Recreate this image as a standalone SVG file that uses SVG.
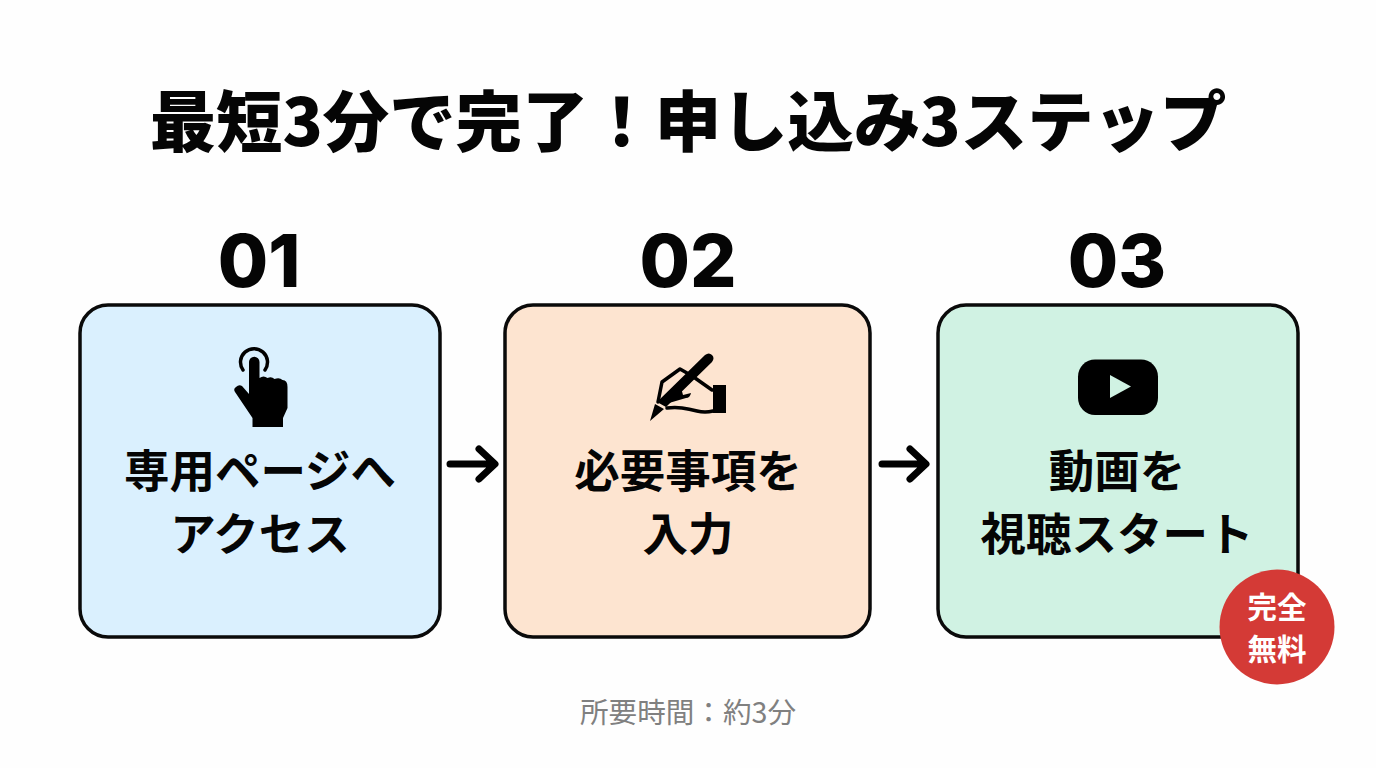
<svg xmlns="http://www.w3.org/2000/svg" width="1376" height="768" viewBox="0 0 1376 768">
<style>
text{font-family:"Noto Sans CJK JP","Noto Sans",sans-serif;text-anchor:middle;fill:#050505}
.t{font-size:66.400px;font-weight:900}
.n{font-size:73px;font-weight:800;font-family:Inter,"Noto Sans",sans-serif}
.l{font-size:45.500px;font-weight:700}
.card{stroke:#0a0a0a;stroke-width:3.500}
.arrow{fill:none;stroke:#000;stroke-width:7;stroke-linecap:round;stroke-linejoin:round}
.ink{fill:none;stroke:#000;stroke-width:3.500;stroke-linecap:round;stroke-linejoin:round}
</style>
<rect width="1376" height="768" fill="#fefefe"/>
<text class="t" x="688" y="146">最短3分で完了！申し込み3ステップ</text>
<g id="step1">
<text class="n" x="259" y="287">01</text>
<rect class="card" x="80" y="305" width="360" height="332" rx="28" fill="#daf0fe"/>
<path class="ink" d="M243 370A13.500 13.500 0 1 1 265 370"/>
<path d="M249 362a5.200 5.200 0 0 1 10.500 0V378q4-3 8 0q4-2 7 1q5-2 8 1q5 0 5 7V408L283 418V427H252.500V418L235 392q-2-3 1-5q3-3 6-1l7 8Z" fill="#000"/>
<text class="l" x="260" y="488">専用ページへ</text>
<text class="l" x="260" y="551">アクセス</text>
</g>
<g id="step2">
<text class="n" x="688" y="287">02</text>
<rect class="card" x="505" y="305" width="365" height="332" rx="28" fill="#fde4d0"/>
<path d="M650 421L655 404L664 409Z M657 402L705 355q4-3 7 0q3 3 0 7L666 407Z" fill="#000"/>
<path class="ink" d="M658 402L662 382L680 369L687 373M695 378L712 390M667 408Q675 407 682 408T697 411T713 411"/>
<path d="M667 401L671 391L680 384L683 395L691 393Q690 398 686 398L669 403Z" fill="#000"/>
<rect x="713" y="385" width="13" height="28" fill="#000"/>
<text class="l" x="688" y="488">必要事項を</text>
<text class="l" x="688" y="551">入力</text>
</g>
<g id="step3">
<text class="n" x="1117" y="287">03</text>
<rect class="card" x="938" y="305" width="360" height="332" rx="28" fill="#d0f2e3"/>
<rect x="1078" y="359.500" width="80" height="55.500" rx="17" fill="#000"/>
<path d="M1110 375V398L1131 386.500Z" fill="#d0f2e3"/>
<text class="l" x="1117" y="488">動画を</text>
<text class="l" x="1117" y="551">視聴スタート</text>
</g>
<g id="badge">
<circle cx="1277" cy="627" r="57.500" fill="#d43a36"/>
<text x="1277" y="618" font-size="29.500" font-weight="700" style="fill:#fff">完全</text>
<text x="1277" y="660" font-size="29.500" font-weight="700" style="fill:#fff">無料</text>
</g>
<g id="connectors">
<path class="arrow" d="M450 464H494M479 449L495 464L479 479"/>
<path class="arrow" d="M882 464H925M910 449L926 464L910 479"/>
</g>
<text x="688" y="723" font-size="28.600" style="fill:#808080" font-weight="400">所要時間：約3分</text>
</svg>
